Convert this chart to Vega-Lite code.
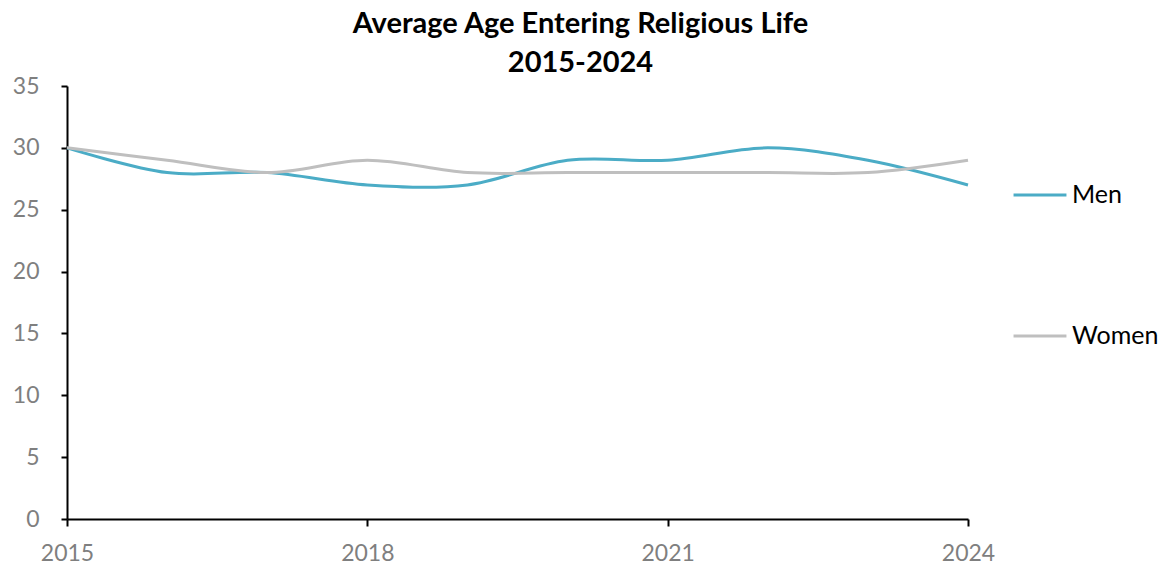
{
  "$schema": "https://vega.github.io/schema/vega-lite/v6.json",
  "autosize": "none",
  "width": 901,
  "height": 433,
  "padding": {"left": 67, "top": 86, "right": 204, "bottom": 50},
  "background": "white",
  "title": {
    "text": ["Average Age Entering Religious Life", "2015-2024"],
    "font": "Lato",
    "fontSize": 29,
    "fontWeight": "bold",
    "color": "#000000",
    "anchor": "middle",
    "dx": 63,
    "offset": -3,
    "lineHeight": 39
  },
  "data": {
    "values": [
      {"year": 2015, "group": "Men", "age": 30},
      {"year": 2016, "group": "Men", "age": 28},
      {"year": 2017, "group": "Men", "age": 28},
      {"year": 2018, "group": "Men", "age": 27},
      {"year": 2019, "group": "Men", "age": 27},
      {"year": 2020, "group": "Men", "age": 29},
      {"year": 2021, "group": "Men", "age": 29},
      {"year": 2022, "group": "Men", "age": 30},
      {"year": 2023, "group": "Men", "age": 29},
      {"year": 2024, "group": "Men", "age": 27},
      {"year": 2015, "group": "Women", "age": 30},
      {"year": 2016, "group": "Women", "age": 29},
      {"year": 2017, "group": "Women", "age": 28},
      {"year": 2018, "group": "Women", "age": 29},
      {"year": 2019, "group": "Women", "age": 28},
      {"year": 2020, "group": "Women", "age": 28},
      {"year": 2021, "group": "Women", "age": 28},
      {"year": 2022, "group": "Women", "age": 28},
      {"year": 2023, "group": "Women", "age": 28},
      {"year": 2024, "group": "Women", "age": 29}
    ]
  },
  "mark": {"type": "line", "interpolate": "cardinal", "strokeWidth": 3},
  "encoding": {
    "x": {
      "field": "year",
      "type": "quantitative",
      "scale": {"domain": [2015, 2024], "nice": false, "zero": false},
      "axis": {
        "values": [2015, 2018, 2021, 2024],
        "format": "d",
        "title": null,
        "grid": false,
        "domainColor": "#000000",
        "domainWidth": 2,
        "tickColor": "#000000",
        "tickWidth": 2,
        "tickSize": 7,
        "labelFont": "Lato",
        "labelFontSize": 23,
        "labelColor": "#7F7F7F",
        "labelPadding": 16,
        "labelFlush": false
      }
    },
    "y": {
      "field": "age",
      "type": "quantitative",
      "scale": {"domain": [0, 35], "nice": false},
      "axis": {
        "values": [0, 5, 10, 15, 20, 25, 30, 35],
        "title": null,
        "grid": false,
        "domainColor": "#000000",
        "domainWidth": 2,
        "tickColor": "#000000",
        "tickWidth": 2,
        "tickSize": 6,
        "labelFont": "Lato",
        "labelFontSize": 23,
        "labelColor": "#7F7F7F",
        "labelPadding": 22
      }
    },
    "color": {
      "field": "group",
      "type": "nominal",
      "scale": {"domain": ["Men", "Women"], "range": ["#4BACC6", "#BFBFBF"]},
      "legend": {
        "orient": "none",
        "legendX": 945,
        "legendY": 81,
        "title": null,
        "symbolType": "stroke",
        "symbolSize": 2800,
        "symbolStrokeWidth": 3,
        "labelFont": "Lato",
        "labelFontSize": 25,
        "labelColor": "#000000",
        "labelOffset": 4,
        "rowPadding": 100,
        "labelLimit": 200
      }
    }
  },
  "config": {"view": {"stroke": null}}
}
